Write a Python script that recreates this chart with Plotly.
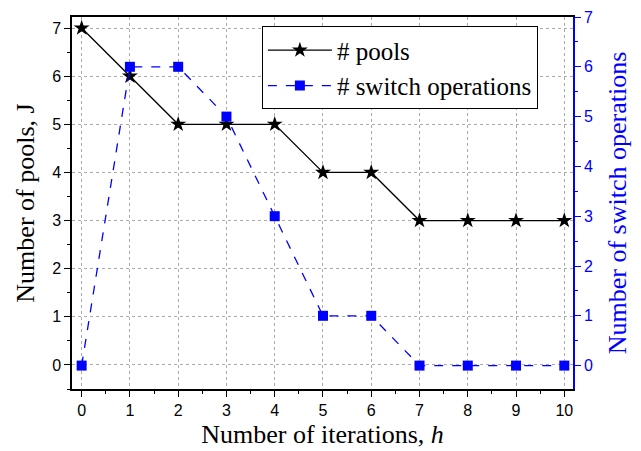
import plotly.graph_objects as go

iterations = [0, 1, 2, 3, 4, 5, 6, 7, 8, 9, 10]
num_pools = [7, 6, 5, 5, 5, 4, 4, 3, 3, 3, 3]
num_switch_ops = [0, 6, 6, 5, 3, 1, 1, 0, 0, 0, 0]

BLUE = "#0000FF"
sans = "Liberation Sans, Arial, sans-serif"
serif = "'Liberation Serif', 'Times New Roman', serif"
tick_font = dict(family=sans, size=16, color="black")
GRID = "#aaaaaa"

fig = go.Figure()
fig.add_trace(go.Scatter(
    x=iterations, y=num_pools, name="# pools", mode="lines+markers",
    line=dict(color="black", width=1.3),
    marker=dict(symbol="star", size=12, color="black"),
))
fig.add_trace(go.Scatter(
    x=iterations, y=num_switch_ops, name="# switch operations", mode="lines+markers",
    yaxis="y2",
    line=dict(color=BLUE, width=1.3, dash="dash"),
    marker=dict(symbol="square", size=10, color=BLUE),
))

fig.update_layout(
    width=641, height=451,
    margin=dict(l=72, r=68, t=17, b=62, autoexpand=False),
    paper_bgcolor="white", plot_bgcolor="white",
    xaxis=dict(
        range=[-0.2, 10.18], dtick=1, tick0=0, automargin=False,
        showline=True, linecolor="black", linewidth=1.5, mirror=True,
        ticks="outside", ticklen=6, tickcolor="black", tickwidth=1.3,
        minor=dict(dtick=0.5, ticks="outside", ticklen=3, tickcolor="black", showgrid=False),
        showgrid=True, gridcolor=GRID, griddash="3px,3px", gridwidth=1,
        zeroline=False, tickfont=tick_font,
        title=dict(text="Number of iterations, <i>h</i>", font=dict(family=serif, size=26, color="black"), standoff=7),
    ),
    yaxis=dict(
        range=[-0.5, 7.23], dtick=1, tick0=0, automargin=False,
        showline=True, linecolor="black", linewidth=1.5,
        ticks="outside", ticklen=6, tickcolor="black", tickwidth=1.3,
        minor=dict(dtick=0.5, ticks="outside", ticklen=3, tickcolor="black", showgrid=False),
        showgrid=True, gridcolor=GRID, griddash="3px,3px", gridwidth=1,
        zeroline=False, tickfont=tick_font,
        title=dict(text="Number of pools, J", font=dict(family=serif, size=26, color="black"), standoff=10),
    ),
    yaxis2=dict(
        overlaying="y", side="right", anchor="x", automargin=False,
        range=[-0.47, 7], dtick=1, tick0=0,
        showline=True, linecolor=BLUE, linewidth=1.5,
        ticks="outside", ticklen=6, tickcolor=BLUE, tickwidth=1.3,
        minor=dict(dtick=0.5, ticks="outside", ticklen=3, tickcolor=BLUE, showgrid=False),
        showgrid=False, zeroline=False,
        tickfont=dict(family=sans, size=16, color=BLUE),
        title=dict(text="Number of switch operations", font=dict(family=serif, size=26, color=BLUE), standoff=16),
    ),
    legend=dict(
        x=0.379, y=0.975, xanchor="left", yanchor="top",
        bordercolor="black", borderwidth=1, bgcolor="white",
        font=dict(family=serif, size=25, color="black"),
        tracegroupgap=0, itemsizing="trace", itemwidth=64,
    ),
)

fig.write_html("out.html")
